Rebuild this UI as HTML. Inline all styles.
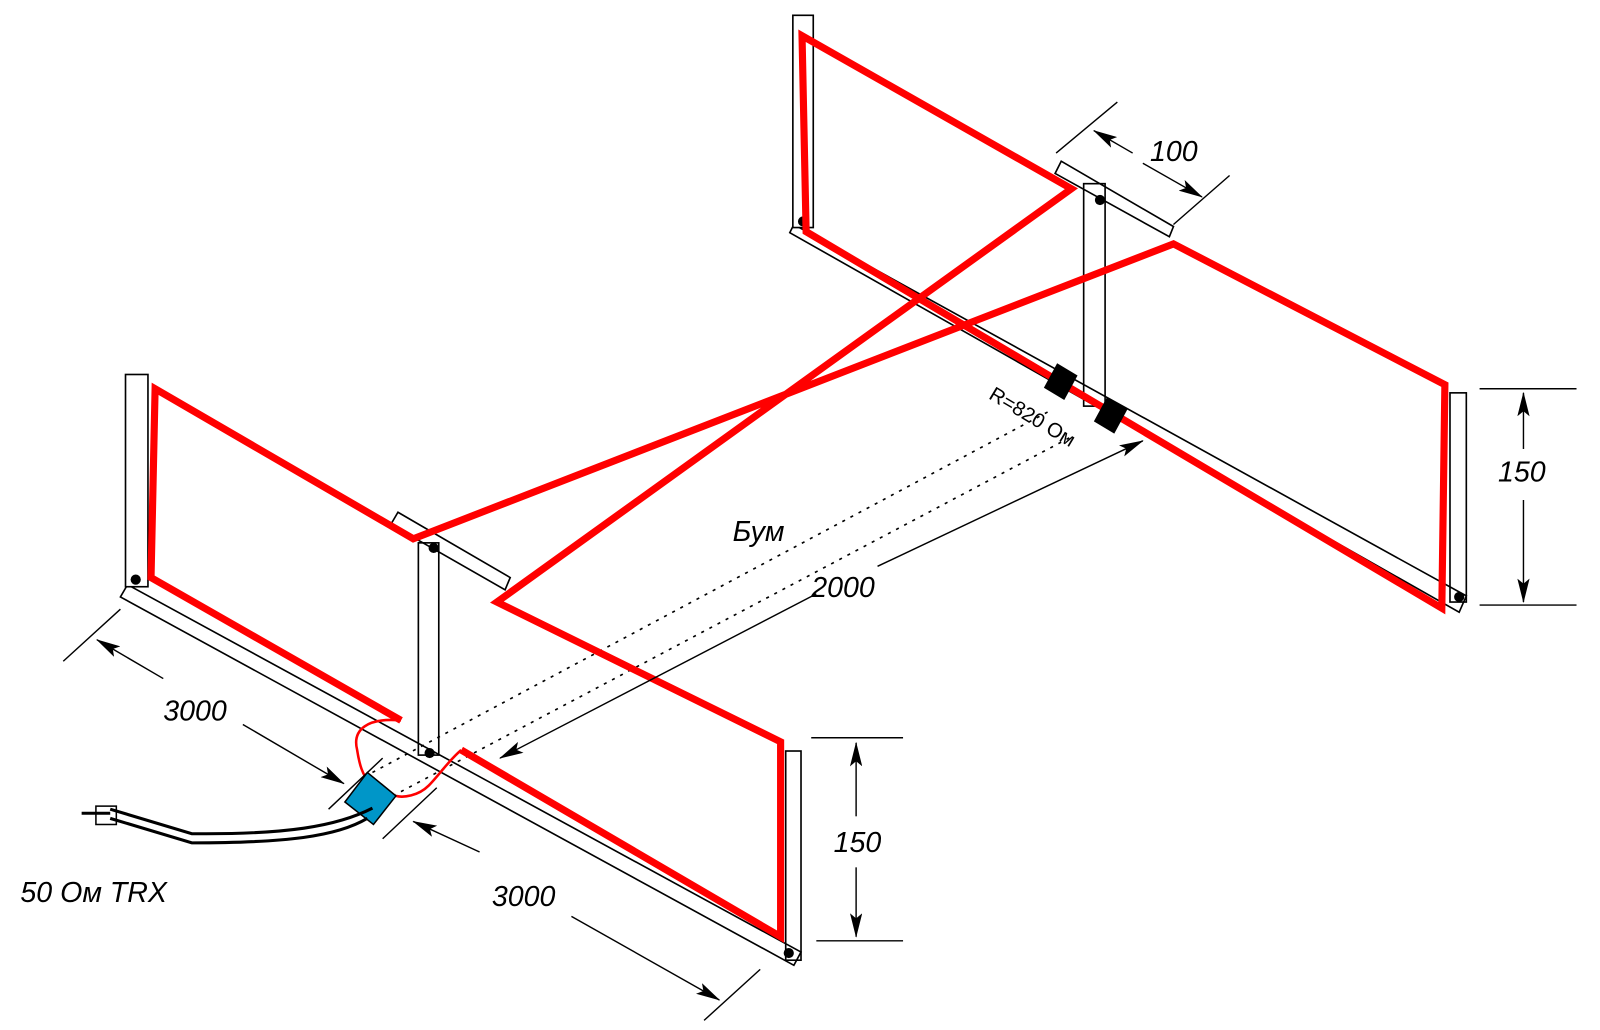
<!DOCTYPE html>
<html><head><meta charset="utf-8"><style>
html,body{margin:0;padding:0;background:#fff;}
svg{display:block;}
text{font-family:"Liberation Sans",sans-serif;font-style:italic;fill:#000;}
</style></head><body>
<svg width="1600" height="1030" viewBox="0 0 1600 1030" xmlns="http://www.w3.org/2000/svg">
<defs>
<marker id="ah2" markerWidth="24" markerHeight="12" refX="23" refY="6" orient="auto" markerUnits="userSpaceOnUse">
<path d="M0,0 L24,6 L0,12 L5,6 Z" fill="#000"/></marker>
</defs>
<g transform="scale(1.0204)">
<g fill="none" stroke="#000" stroke-width="1.6">
<polygon points="125,573 785,933 778,946 118,585" fill="#fff"/>
<polygon points="778,220 1437,584 1430,600 774,228" fill="#fff"/>
<rect x="123" y="367" width="22" height="208" fill="#fff"/>
<rect x="410" y="532" width="20" height="208"/>
<rect x="777" y="15" width="20" height="208" fill="#fff"/>
<rect x="1062" y="180" width="21" height="218"/>
<rect x="1421" y="385" width="16" height="205"/>
<rect x="770" y="736" width="15" height="205"/>
<polygon points="390,502 500,566 495,578 383,514"/>
<polygon points="1040,158 1150,222 1146,232 1034,170"/>
</g>
<g fill="#000">
<circle cx="133" cy="568" r="5"/><circle cx="425" cy="537" r="5"/><circle cx="421" cy="738" r="5"/>
<circle cx="787" cy="217" r="5"/><circle cx="1078" cy="196" r="5"/><circle cx="1430" cy="585" r="5"/>
<circle cx="773" cy="934" r="5"/>
</g>
<g stroke="#000" stroke-width="1.6" stroke-dasharray="3,6" fill="none">
<line x1="365" y1="757" x2="1030" y2="402"/>
<line x1="385" y1="780" x2="1050" y2="428"/>
</g>
<polyline fill="none" stroke="#f00" stroke-width="7" stroke-linejoin="miter" points="393,706 148,566 152,381 405,528 1150,239 1416,377 1413,596 790,227 786,35 1050,185 487,590 765,727 765,918 452,735"/>
<g fill="#000">
<polygon points="1036,356 1056,368 1043,392 1023,380"/>
<polygon points="1085,389 1105,401 1092,425 1072,413"/>
</g>
<path d="M393,706 C360,703 345,715 350,735 C352,748 355,760 363,768" fill="none" stroke="#f00" stroke-width="2.5"/>
<path d="M452,735 C440,745 430,760 420,770 C410,780 395,782 388,780" fill="none" stroke="#f00" stroke-width="2.5"/>
<polygon points="360,757 388,780 366,808 338,786" fill="#0096c8" stroke="#000" stroke-width="1.5"/>
<g fill="none" stroke="#000" stroke-width="3">
<path d="M365,792 C330,810 280,818 188,817 L108,793"/>
<path d="M360,802 C330,820 280,826 188,826 L108,802"/>
<line x1="80" y1="797" x2="108" y2="797"/>
</g>
<rect x="94" y="790" width="20" height="18" fill="none" stroke="#000" stroke-width="1.5"/>
<g stroke="#000" stroke-width="1.4" fill="none">
<line x1="62" y1="648" x2="118" y2="597"/>
<line x1="322" y1="793" x2="375" y2="743"/>
<line x1="160" y1="665" x2="95" y2="627" marker-end="url(#ah2)"/>
<line x1="238" y1="710" x2="337" y2="768" marker-end="url(#ah2)"/>
<line x1="375" y1="822" x2="428" y2="772"/>
<line x1="690" y1="1000" x2="745" y2="950"/>
<line x1="470" y1="835" x2="405" y2="805" marker-end="url(#ah2)"/>
<line x1="560" y1="898" x2="705" y2="980" marker-end="url(#ah2)"/>
<line x1="1450" y1="381" x2="1545" y2="381"/>
<line x1="1450" y1="593" x2="1545" y2="593"/>
<line x1="1493" y1="440" x2="1493" y2="385" marker-end="url(#ah2)"/>
<line x1="1493" y1="490" x2="1493" y2="590" marker-end="url(#ah2)"/>
<line x1="795" y1="723" x2="885" y2="723"/>
<line x1="800" y1="922" x2="885" y2="922"/>
<line x1="839" y1="800" x2="839" y2="728" marker-end="url(#ah2)"/>
<line x1="839" y1="850" x2="839" y2="918" marker-end="url(#ah2)"/>
<line x1="1035" y1="150" x2="1095" y2="100"/>
<line x1="1150" y1="220" x2="1205" y2="172"/>
<line x1="1110" y1="150" x2="1072" y2="128" marker-end="url(#ah2)"/>
<line x1="1120" y1="160" x2="1178" y2="193" marker-end="url(#ah2)"/>
<line x1="800" y1="582" x2="490" y2="743" marker-end="url(#ah2)"/>
<line x1="860" y1="555" x2="1120" y2="432" marker-end="url(#ah2)"/>
</g>
<g font-size="28">
<text x="160" y="706">3000</text>
<text x="482" y="888">3000</text>
<text x="1468" y="472">150</text>
<text x="817" y="835">150</text>
<text x="1127" y="158">100</text>
<text x="795" y="585">2000</text>
<text x="718" y="530">Бум</text>
<text x="20" y="884">50 Ом TRX</text>
</g>
<text x="968" y="390" font-size="20" transform="rotate(31 968 390)" style="font-style:normal">R=820 Ом</text>
</g>
</svg>
</body></html>
